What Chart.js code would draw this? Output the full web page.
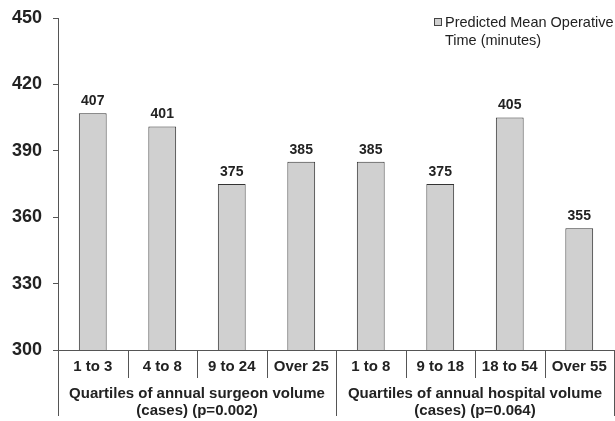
<!DOCTYPE html>
<html>
<head>
<meta charset="utf-8">
<script src="https://cdn.jsdelivr.net/npm/chart.js@4"></script>
<style>
  body { margin: 0; background: #fff; }
  #wrap { width: 615px; height: 421px; }
</style>
</head>
<body>
<div id="wrap"><canvas id="chart" width="615" height="421"></canvas></div>
<script>
// data
const categories = ['1 to 3', '4 to 8', '9 to 24', 'Over 25', '1 to 8', '9 to 18', '18 to 54', 'Over 55'];
const operativeTime = [407, 401, 375, 385, 385, 375, 405, 355];
const groupLabels = [
  ['Quartiles of annual surgeon volume', '(cases) (p=0.002)'],
  ['Quartiles of annual hospital volume', '(cases) (p=0.064)']
];
const seriesName = ['Predicted Mean Operative', 'Time (minutes)'];
const yTicks = [300, 330, 360, 390, 420, 450];

const FONT = '"Liberation Sans", Arial, sans-serif';
const INK = '#222';
const LINE = '#555';

// draws value labels, category rows, group rows and the legend
const extras = {
  id: 'extras',
  afterDraw(chart) {
    const ctx = chart.ctx;
    const x = chart.scales.x;
    const area = chart.chartArea;
    const step = (area.right - area.left) / categories.length;

    ctx.save();
    // values over the bars
    ctx.fillStyle = INK;
    ctx.font = 'bold 14px ' + FONT;
    ctx.textAlign = 'center';
    ctx.textBaseline = 'middle';
    chart.getDatasetMeta(0).data.forEach((bar, i) => {
      ctx.fillText(operativeTime[i], bar.x, bar.y - 12);
    });

    // separators below the axis
    ctx.strokeStyle = LINE;
    ctx.lineWidth = 1;
    for (let i = 0; i <= categories.length; i++) {
      const px = Math.round(area.left + i * step) + 0.5;
      const long = i % 4 === 0;
      ctx.beginPath();
      ctx.moveTo(px, area.bottom);
      ctx.lineTo(px, long ? area.bottom + 66 : area.bottom + 28);
      ctx.stroke();
    }

    // category labels
    ctx.font = 'bold 15px ' + FONT;
    categories.forEach((c, i) => {
      ctx.fillText(c, x.getPixelForValue(i), area.bottom + 17);
    });

    // group labels
    groupLabels.forEach((lines, g) => {
      const cx = area.left + (g * 4 + 2) * step;
      lines.forEach((t, k) => {
        ctx.fillText(t, cx, area.bottom + 44 + k * 17);
      });
    });

    // legend
    ctx.fillStyle = '#d0d0d0';
    ctx.fillRect(434.5, 18.5, 7, 7);
    ctx.strokeStyle = '#444';
    ctx.strokeRect(434.5, 18.5, 7, 7);
    ctx.fillStyle = INK;
    ctx.font = '14.5px ' + FONT;
    ctx.textAlign = 'left';
    ctx.fillText(seriesName[0], 445, 23);
    ctx.fillText(seriesName[1], 445, 41);
    ctx.restore();
  }
};

new Chart(document.getElementById('chart'), {
  type: 'bar',
  data: {
    labels: categories,
    datasets: [{
      label: seriesName.join(' '),
      data: operativeTime,
      backgroundColor: '#d0d0d0',
      borderColor: '#333',
      borderWidth: 1,
      barPercentage: 0.4,
      categoryPercentage: 1
    }]
  },
  options: {
    responsive: false,
    animation: false,
    layout: { padding: { top: 18, right: 1, left: 0, bottom: 0 } },
    plugins: {
      legend: { display: false },
      tooltip: { enabled: false }
    },
    scales: {
      x: {
        grid: { display: false },
        border: { color: LINE },
        ticks: { display: false },
        afterFit(scale) { scale.height = 71; }
      },
      y: {
        min: 300,
        max: 450,
        afterBuildTicks(scale) { scale.ticks = yTicks.map(v => ({ value: v })); },
        ticks: {
          color: INK,
          padding: 11,
          font: { family: FONT, size: 18, weight: 'bold' }
        },
        grid: { drawOnChartArea: false, tickLength: 5, color: LINE },
        border: { color: LINE },
        afterFit(scale) {
          scale.width = 58;
          scale.paddingTop = 0;
          scale.paddingBottom = 0;
        }
      }
    }
  },
  plugins: [extras]
});
</script>
</body>
</html>
